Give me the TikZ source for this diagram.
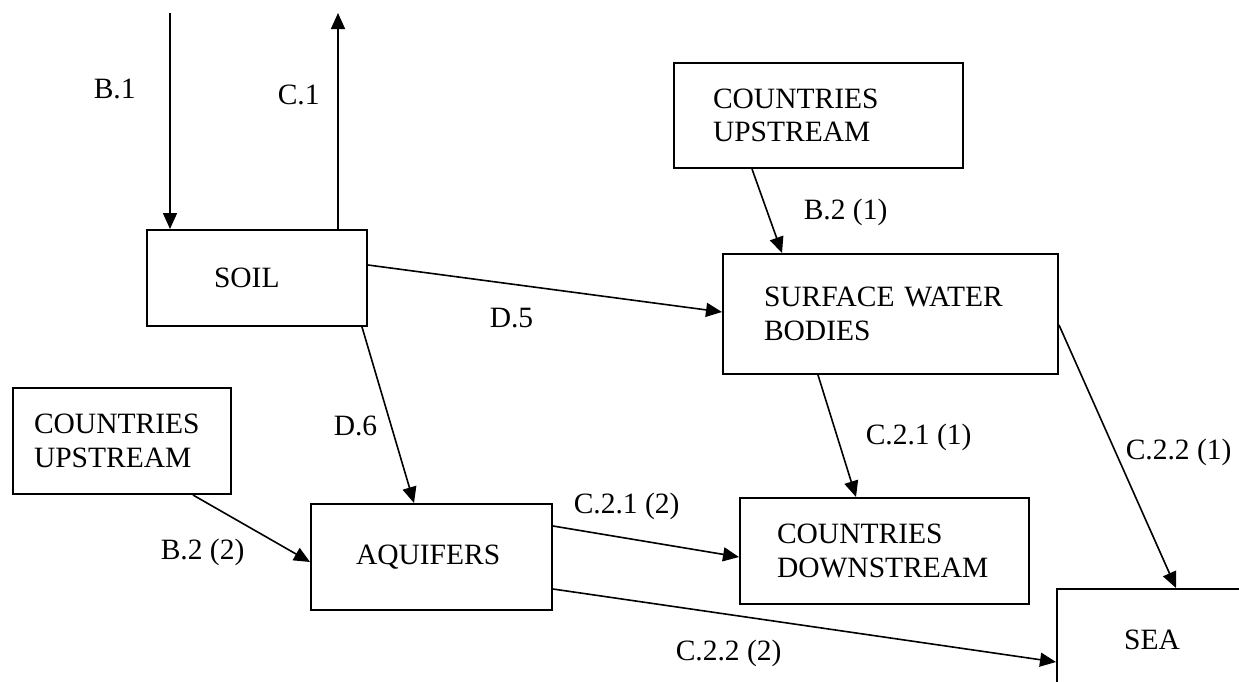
\documentclass[tikz,border=0pt]{standalone}
\usepackage{fontspec}
\setmainfont{Liberation Serif}
\usetikzlibrary{arrows.meta}

\tikzset{
  caixa/.style={draw, line width=2pt, align=left, inner ysep=0pt, anchor=north west},
  rot/.style={anchor=base west, inner sep=0pt},
}

\begin{document}
\begin{tikzpicture}[x=1pt,y=-1pt,line width=1.6pt,
  >={Triangle[length=16pt,width=14pt]},
  font=\fontsize{29.5}{33.5}\selectfont]
\useasboundingbox (0,0) rectangle (1239,681);
\clip (0,0) rectangle (1239,681);
% caixas
\node[caixa, inner xsep=67pt, text width=86pt, minimum height=96pt] (soil) at (146,229) {SOIL};
\node[caixa, inner xsep=39pt, text width=211pt, minimum height=105pt] (upA) at (673,62) {COUNTRIES\\UPSTREAM};
\node[caixa, inner xsep=41pt, text width=253pt, minimum height=120pt] (swb) at (722,253) {SURFACE WATER\\BODIES};
\node[caixa, inner xsep=21pt, text width=176pt, minimum height=106pt] (upB) at (12,387) {COUNTRIES\\UPSTREAM};
\node[caixa, inner xsep=45pt, text width=151pt, minimum height=106pt] (aqui) at (310,503) {AQUIFERS};
\node[caixa, inner xsep=37pt, text width=215pt, minimum height=106pt] (down) at (739,497) {COUNTRIES\\DOWNSTREAM};
\node[draw, line width=2pt, minimum width=190pt, minimum height=102pt] (sea) at (1152,640) {SEA};
% entradas e saidas no topo
\coordinate (b1in) at (170,13);
\coordinate (c1out) at (338,13);
\draw[->] (b1in) -- ([xshift=24pt]soil.north west);
\draw[->] ([xshift=192pt]soil.north west) -- (c1out);
% fluxos
\draw[->] ([xshift=79pt]upA.south west) -- ([xshift=60pt]swb.north west);
\draw[->] ([yshift=-36pt]soil.north east) -- ([yshift=-59pt]swb.north west);
\draw[->] ([xshift=216pt]soil.south west) -- ([xshift=104pt]aqui.north west);
\draw[->] ([xshift=181pt]upB.south west) -- ([yshift=-59pt]aqui.north west);
\draw[->] ([xshift=96pt]swb.south west) -- ([xshift=117pt]down.north west);
\draw[->] ([yshift=-72pt]swb.north east) -- ([xshift=120pt]sea.north west);
\draw[->] ([yshift=-23pt]aqui.north east) -- ([yshift=-60pt]down.north west);
\draw[->] ([yshift=-86pt]aqui.north east) -- ([yshift=-74pt]sea.north west);
% rotulos
\node[rot] (lb1) at (93,98) {B.1};
\node[rot] (lc1) at (277,104) {C.1};
\node[rot] (lb21) at (803,219) {B.2 (1)};
\node[rot] (ld5) at (489,327) {D.5};
\node[rot] (ld6) at (333,435) {D.6};
\node[rot] (lb22) at (160,559) {B.2 (2)};
\node[rot] (lc211) at (865,444) {C.2.1 (1)};
\node[rot] (lc221) at (1125,459) {C.2.2 (1)};
\node[rot] (lc212) at (573,513) {C.2.1 (2)};
\node[rot] (lc222) at (675,660) {C.2.2 (2)};
\end{tikzpicture}
\end{document}
